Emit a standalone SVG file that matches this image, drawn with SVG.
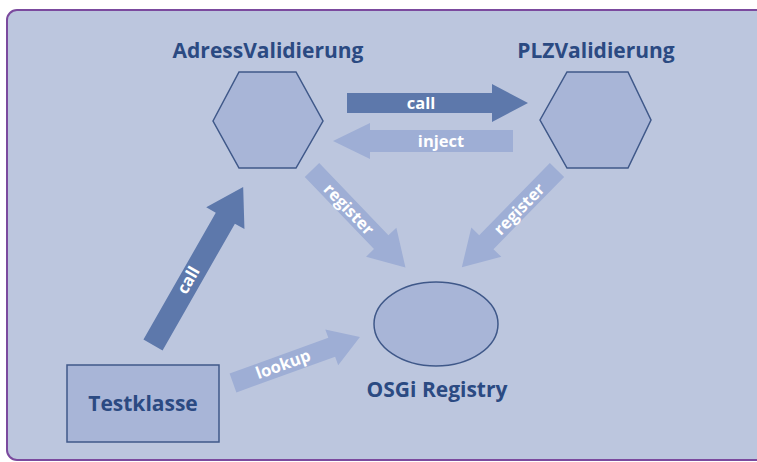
<svg xmlns="http://www.w3.org/2000/svg" width="757" height="462" viewBox="0 0 757 462">
<style>
.title{font-family:"Open Sans","Liberation Sans",sans-serif;font-weight:700;font-size:21px;fill:#2b4a82;text-anchor:middle}
.lbl{font-family:"Open Sans","Liberation Sans",sans-serif;font-weight:700;font-size:16.5px;fill:#ffffff;text-anchor:middle}
.shape{fill:#a8b5d7;stroke:#3f5889;stroke-width:1.5}
.dark{fill:#5d78ab}
.light{fill:#9eaed5}
</style>
<rect x="0" y="0" width="757" height="462" fill="#ffffff"/>
<path d="M770,10 H17 A10,10 0 0 0 7,20 V450 A10,10 0 0 0 17,460 H770 Z" fill="#bcc6de"/>
<path d="M770,10 H17 A10,10 0 0 0 7,20 V450 A10,10 0 0 0 17,460 H770" fill="none" stroke="#7b4a9e" stroke-width="2"/>
<g id="connectors">
  <g id="call-ap">
    <path class="dark" d="M0,-10 L145,-10 L145,-19 L181,0 L145,19 L145,10 L0,10Z" transform="translate(347,103)"/>
    <text class="lbl" x="421" y="109">call</text>
  </g>
  <g id="inject-pa">
    <path class="light" d="M0,-11 L143,-11 L143,-18 L180,0 L143,18 L143,11 L0,11Z" transform="translate(513,141) rotate(180)"/>
    <text class="lbl" x="441" y="147">inject</text>
  </g>
  <g id="register-a">
    <path class="light" d="M0,-10 L100,-10 L100,-21 L135,0 L100,21 L100,10 L0,10Z" transform="translate(312,170) rotate(46.2)"/>
    <text class="lbl" transform="translate(349,209) rotate(46.2)" y="6">register</text>
  </g>
  <g id="register-p">
    <path class="light" d="M0,-10 L101,-10 L101,-21 L136,0 L101,21 L101,10 L0,10Z" transform="translate(557,170) rotate(134.4)"/>
    <text class="lbl" transform="translate(519,209) rotate(-45.6)" y="6">register</text>
  </g>
  <g id="call-ta">
    <path class="dark" d="M0,-11 L146,-11 L146,-22 L182,0 L146,22 L146,11 L0,11Z" transform="translate(153,345) rotate(-60.3)"/>
    <text class="lbl" transform="translate(188,280) rotate(-60.3)" y="6">call</text>
  </g>
  <g id="lookup-tr">
    <path class="light" d="M0,-10 L105,-10 L105,-19 L135,0 L105,19 L105,10 L0,10Z" transform="translate(233,383) rotate(-19.9)"/>
    <text class="lbl" transform="translate(283,364) rotate(-19.9)" y="6">lookup</text>
  </g>
</g>
<g id="adressvalidierung">
  <polygon class="shape" points="213,121 239,72 296,72 323,121 296,168 239,168"/>
  <text class="title" x="268" y="58">AdressValidierung</text>
</g>
<g id="plzvalidierung">
  <polygon class="shape" points="540,120 567,72 628,72 651,120 628,168 567,168"/>
  <text class="title" x="596" y="58">PLZValidierung</text>
</g>
<g id="osgi-registry">
  <ellipse class="shape" cx="436" cy="324" rx="62" ry="42"/>
  <text class="title" x="437" y="397">OSGi Registry</text>
</g>
<g id="testklasse">
  <rect class="shape" x="67" y="365" width="152" height="77"/>
  <text class="title" x="143" y="411">Testklasse</text>
</g>
</svg>
